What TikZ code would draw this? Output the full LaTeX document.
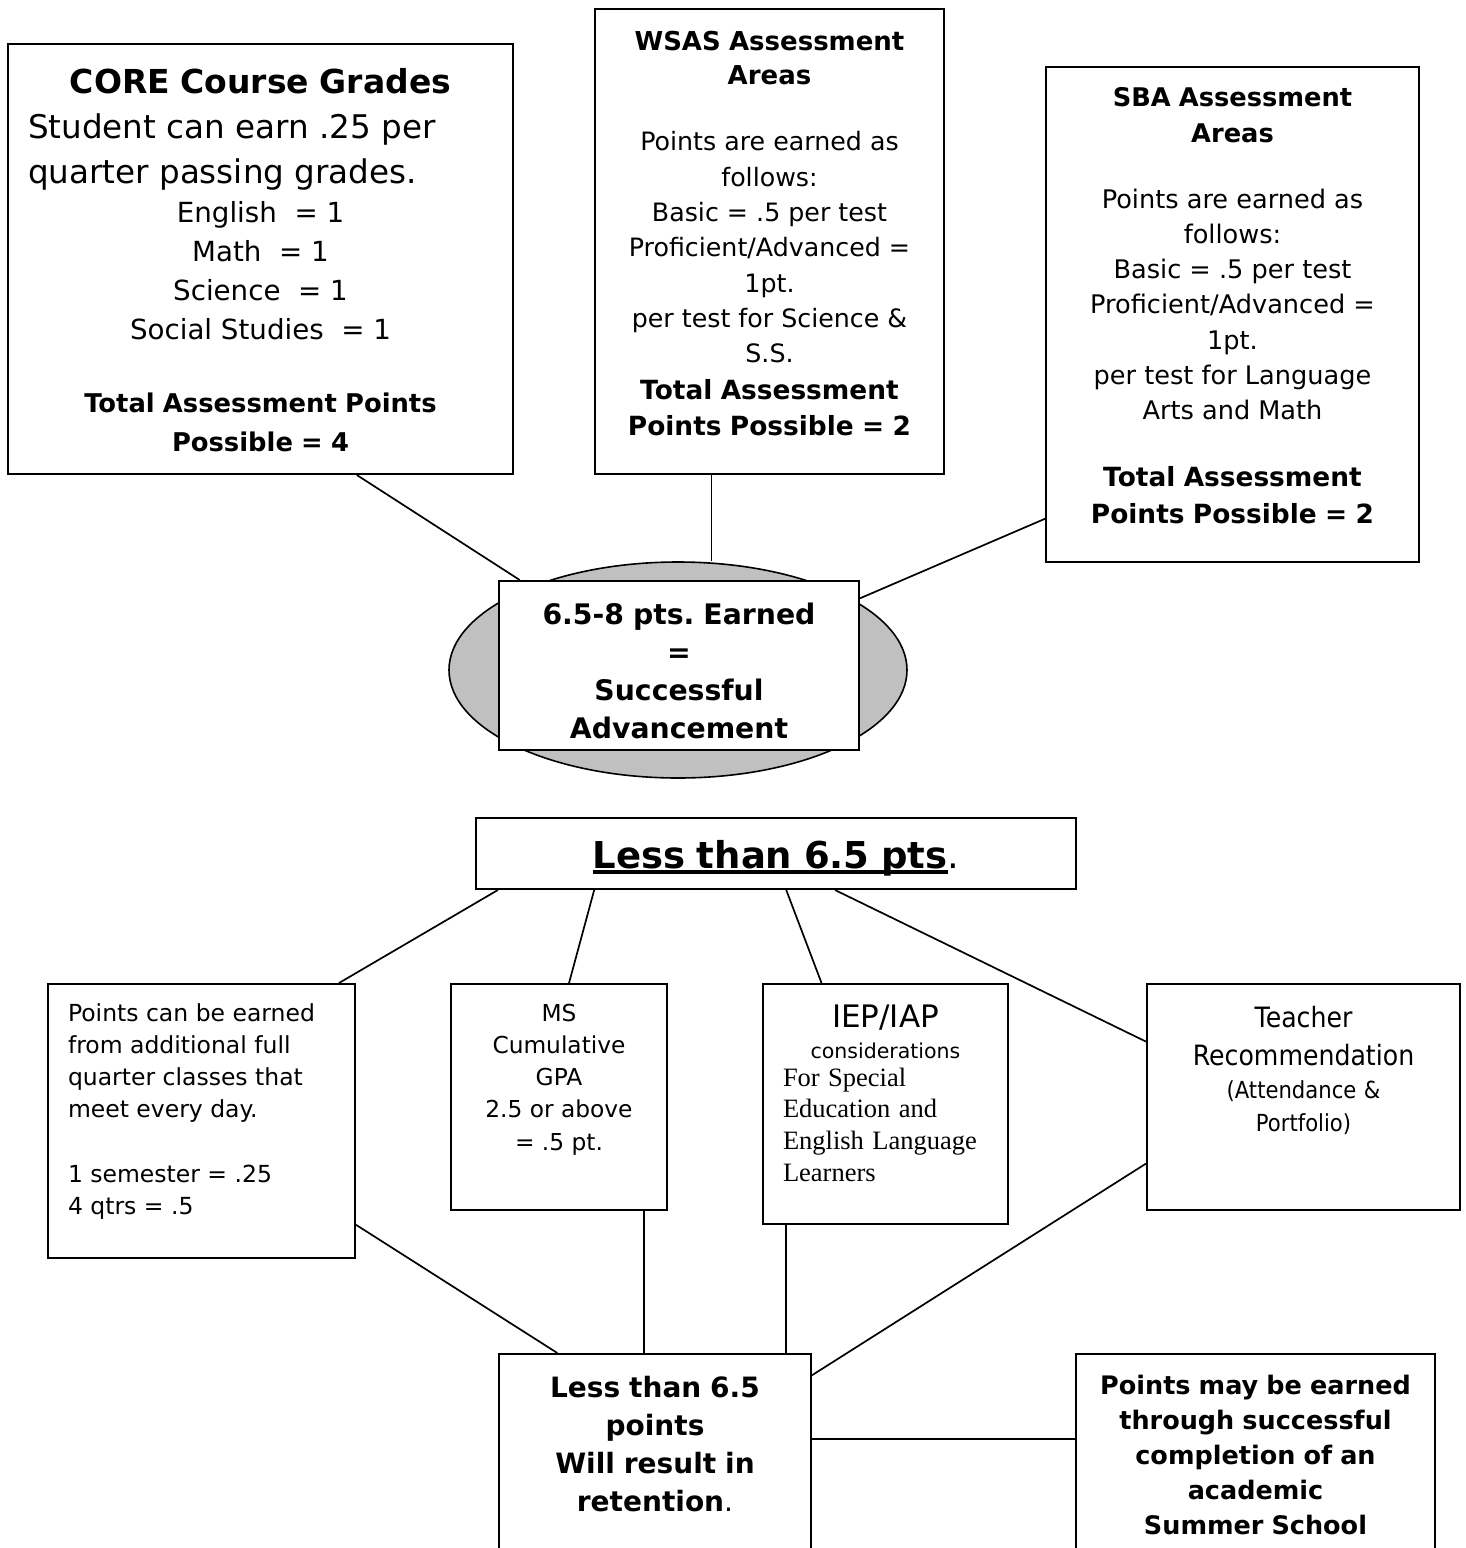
\documentclass[tikz,border=0pt]{standalone}
\usepackage{fontspec}
\setmainfont{DejaVu Sans}
\newfontfamily\narrowfont{DejaVu Sans}[FakeStretch=0.9]
\newfontfamily\timesfont{Liberation Serif}
\usetikzlibrary{calc,shapes.geometric}
\definecolor{ovalgray}{RGB}{192,192,192}
\newsavebox\ulbox
\newcommand{\fatul}[1]{\sbox\ulbox{#1}\rlap{\rule[-6pt]{\wd\ulbox}{4.5pt}}\usebox\ulbox}
\newcommand{\boxfont}[2]{\fontsize{#1}{#2}\selectfont\spaceskip=0.318em\xspaceskip=0.318em\relax}
\tikzset{
  box/.style={draw, line width=2pt, fill=white, anchor=north west, inner ysep=0pt, align=center},
  link/.style={line width=1.7pt},
}
\begin{document}
\begin{tikzpicture}[x=1pt,y=-1pt]
\useasboundingbox (0,0) rectangle (1466,1548);
%%%% upper part
\node[ellipse, draw, line width=1.6pt, fill=ovalgray, minimum width=458pt, minimum height=216pt, inner sep=0pt] (oval) at (678,670) {};
\node[box, text width=465pt, inner xsep=20pt, text height=49pt, text depth=381pt] (core) at (7,43) {%
{\boxfont{33}{45}\bfseries CORE Course Grades\par}
{\boxfont{32.6}{45}\makebox[465pt][l]{Student can earn .25 per}\\\makebox[465pt][l]{quarter passing grades.}\par}
{\boxfont{27.7}{39}English\ \ = 1\\ Math\ \ = 1\\ Science\ \ = 1\\ Social Studies\ \ = 1\par}
\vspace{35pt}
{\boxfont{25.8}{38.5}\bfseries Total Assessment Points\\ Possible = 4\par}};
\node[box, text width=329pt, inner xsep=10pt, text height=41pt, text depth=424pt] (wsas) at (594,8) {%
{\boxfont{26}{34}\bfseries WSAS Assessment\\ Areas\par}
\vspace{31.5pt}
{\boxfont{25.3}{35.3}Points are earned as\\ follows:\\ Basic = .5 per test\\ Proficient/Advanced =\\ 1pt.\\ per test for Science \&\\ S.S.\par}
{\boxfont{26.4}{36.5}\bfseries Total Assessment\\ Points Possible = 2\par}};
\node[box, text width=349pt, inner xsep=12pt, text height=39pt, text depth=456pt] (sba) at (1045,66) {%
{\boxfont{25.7}{36}\bfseries SBA Assessment\\ Areas\par}
\vspace{31pt}
{\boxfont{25.6}{35.2}Points are earned as\\ follows:\\ Basic = .5 per test\\ Proficient/Advanced =\\ 1pt.\\ per test for Language\\ Arts and Math\par}
\vspace{31pt}
{\boxfont{26.4}{36.5}\bfseries Total Assessment\\ Points Possible = 2\par}};
\node[box, text width=340pt, inner xsep=10pt, text height=43pt, text depth=126pt] (adv) at (498,580) {%
{\boxfont{28.3}{38}\bfseries 6.5-8 pts. Earned\\ =\\ Successful\\ Advancement\par}};
\draw[link] ($(core.south west)!0.69!(core.south east)$) -- ($(adv.north west)!0.06!(adv.north east)$);
\coordinate (wsasFoot) at ($(wsas.south west)!0.335!(wsas.south east)$);
\draw[link] (wsasFoot) -- (wsasFoot |- oval.north);
\draw[link] ($(sba.north west)!0.911!(sba.south west)$) -- ($(adv.north east)!0.107!(adv.south east)$);
%%%% lower part
\node[box, text width=580pt, inner xsep=10pt, text height=50pt, text depth=21pt] (less) at (475,817) {%
\boxfont{37}{44}\fatul{\bfseries Less than 6.5 pts}.\par};
\node[box, align=left, text width=267pt, inner xsep=20pt, text height=37pt, text depth=237pt] (lft) at (47,983) {%
\boxfont{23.5}{32.3}Points can be earned\\ from additional full\\ quarter classes that\\ meet every day.\\[32pt] 1 semester = .25\\ 4 qtrs = .5\par};
\node[box, text width=200pt, inner xsep=8pt, text height=37pt, text depth=189pt] (ms) at (450,983) {%
\boxfont{23.3}{32.3}MS\\ Cumulative\\ GPA\\ 2.5 or above\\ = .5 pt.\par};
\node[box, align=left, text width=205pt, inner xsep=20pt, text height=43pt, text depth=197pt] (iep) at (762,983) {%
{\boxfont{31}{36}\makebox[205pt]{IEP/IAP}\par}
{\boxfont{20.5}{31}\makebox[205pt]{considerations}\par}
\vspace{-3.5pt}
{\timesfont\boxfont{26.5}{31.7}For Special\\ Education and\\ English Language\\ Learners\par}};
\node[box, text width=293pt, inner xsep=10pt, text height=43pt, text depth=183pt] (teach) at (1146,983) {%
{\narrowfont\boxfont{28}{38}Teacher\\ Recommendation\par}
{\narrowfont\boxfont{23.5}{33}(Attendance \&\\ Portfolio)\par}};
\node[box, text width=292pt, inner xsep=10pt, text height=43pt, text depth=159pt] (ret) at (498,1353) {%
\boxfont{28}{38.3}{\bfseries Less than 6.5\\ points\\ Will result in\\ retention}.\par};
\node[box, text width=339pt, inner xsep=10pt, text height=40pt, text depth=162pt] (sum) at (1075,1353) {%
\boxfont{25.5}{35.2}\bfseries Points may be earned\\ through successful\\ completion of an\\ academic\\ Summer School\par};
\draw[link] ($(less.south west)!0.038!(less.south east)$) -- ($(lft.north west)!0.945!(lft.north east)$);
\draw[link] ($(less.south west)!0.198!(less.south east)$) -- ($(ms.north west)!0.546!(ms.north east)$);
\draw[link] ($(less.south west)!0.517!(less.south east)$) -- ($(iep.north west)!0.241!(iep.north east)$);
\draw[link] ($(less.south west)!0.598!(less.south east)$) -- ($(teach.north west)!0.257!(teach.south west)$);
%%%%
\coordinate (msFoot) at ($(ms.south west)!0.889!(ms.south east)$);
\coordinate (iepFoot) at ($(iep.south west)!0.098!(iep.south east)$);
\coordinate (retSide) at ($(ret.north east)!0.421!(ret.south east)$);
\draw[link] ($(lft.north east)!0.876!(lft.south east)$) -- ($(ret.north west)!0.189!(ret.north east)$);
\draw[link] (msFoot) -- (msFoot |- ret.north);
\draw[link] (iepFoot) -- (iepFoot |- ret.north);
\draw[link] ($(teach.north west)!0.792!(teach.south west)$) -- ($(ret.north east)!0.109!(ret.south east)$);
\draw[link] (retSide) -- (retSide -| sum.west);
\end{tikzpicture}
\end{document}
